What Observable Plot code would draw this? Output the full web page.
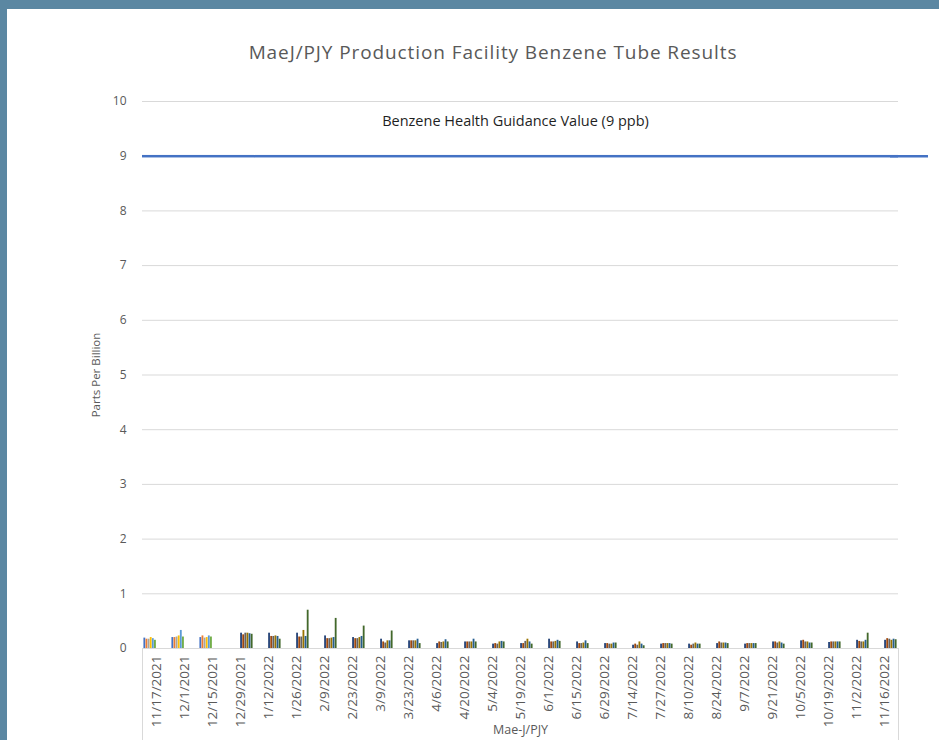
<!DOCTYPE html>
<html>
<head>
<meta charset="utf-8">
<script src="https://cdn.jsdelivr.net/npm/d3@7"></script>
<script src="https://cdn.jsdelivr.net/npm/@observablehq/plot@0.6"></script>
<style>
  html, body { margin: 0; padding: 0; }
  body { width: 939px; height: 740px; background: #5b87a2; position: relative; overflow: hidden; font-family: "Open Sans", sans-serif; }
  #panel { position: absolute; left: 7px; top: 9px; width: 932px; height: 731px; background: #ffffff; }
  #title { position: absolute; left: 493px; top: 41px; transform: translateX(-50%); white-space: nowrap;
           font-size: 19px; letter-spacing: 0.9px; line-height: 22px; color: #595959; }
  #chart { position: absolute; left: 7px; top: 80px; }
</style>
</head>
<body>
<div id="panel"></div>
<div id="title">MaeJ/PJY Production Facility Benzene Tube Results</div>
<div id="chart"></div>
<script>
const dates = ["11/17/2021","12/1/2021","12/15/2021","12/29/2021","1/12/2022","1/26/2022","2/9/2022","2/23/2022","3/9/2022","3/23/2022","4/6/2022","4/20/2022","5/4/2022","5/19/2022","6/1/2022","6/15/2022","6/29/2022","7/14/2022","7/27/2022","8/10/2022","8/24/2022","9/7/2022","9/21/2022","10/5/2022","10/19/2022","11/2/2022","11/16/2022"];

// six sampling tubes per date (ppb)
const tube1 = [0.19,0.20,0.20,0.28,0.28,0.28,0.23,0.20,0.17,0.14,0.09,0.12,0.08,0.09,0.17,0.12,0.09,0.06,0.08,0.08,0.09,0.08,0.12,0.14,0.11,0.15,0.15];
const tube2 = [0.17,0.20,0.23,0.25,0.22,0.21,0.18,0.18,0.12,0.14,0.12,0.12,0.09,0.09,0.12,0.09,0.09,0.08,0.09,0.06,0.12,0.09,0.12,0.15,0.12,0.13,0.18];
const tube3 = [0.17,0.21,0.19,0.28,0.22,0.21,0.18,0.18,0.10,0.14,0.11,0.12,0.08,0.13,0.12,0.09,0.08,0.06,0.09,0.08,0.10,0.09,0.10,0.12,0.12,0.12,0.17];
const tube4 = [0.20,0.23,0.20,0.28,0.23,0.33,0.19,0.20,0.14,0.14,0.12,0.12,0.12,0.17,0.13,0.10,0.08,0.12,0.09,0.10,0.10,0.09,0.12,0.12,0.12,0.12,0.15];
const tube5 = [0.18,0.33,0.23,0.27,0.22,0.22,0.20,0.22,0.14,0.17,0.16,0.17,0.13,0.12,0.15,0.14,0.10,0.08,0.09,0.08,0.10,0.09,0.10,0.10,0.12,0.15,0.17];
const tube6 = [0.15,0.21,0.21,0.26,0.17,0.70,0.55,0.41,0.32,0.09,0.12,0.12,0.12,0.08,0.13,0.09,0.10,0.05,0.08,0.08,0.09,0.09,0.08,0.10,0.12,0.28,0.16];
const tubes = [tube1, tube2, tube3, tube4, tube5, tube6];

// Excel series: the first three dates were charted as series 1-6, the rest as series 7-12
const firstPeriodCount = 3;
const seriesColors = ["#4472C4","#ED7D31","#A5A5A5","#FFC000","#5B9BD5","#70AD47",
                      "#264478","#9E480E","#636363","#997300","#255E91","#43682B"];

const yTicks = [0,1,2,3,4,5,6,7,8,9,10];
const guidanceValue = 9;
const guidanceLabel = "Benzene Health Guidance Value (9 ppb)";
const yLabel = "Parts Per Billion";
const xLabel = "Mae-J/PJY";
const xDomain = [-0.6, 12.6];

const table = [];
dates.forEach((date, i) => {
  tubes.forEach((arr, j) => {
    table.push({date, slot: j + (i < firstPeriodCount ? 0 : 6), value: arr[i]});
  });
});
const perDate = dates.map(date => ({date}));
const first = [{date: dates[0]}];
const last = [{date: dates[dates.length - 1]}];
const middle = [{date: dates[Math.floor(dates.length / 2)]}];

const chart = Plot.plot({
  width: 932,
  height: 660,
  marginLeft: 131,
  marginRight: 37,
  marginTop: 21,
  marginBottom: 92,
  style: {fontFamily: "Open Sans, sans-serif", fontSize: "11px", color: "#595959", background: "transparent", overflow: "visible"},
  fx: {domain: dates, padding: 0},
  x: {domain: xDomain, axis: null},
  y: {domain: [0, 10]},
  color: {type: "ordinal", domain: d3.range(12), range: seriesColors},
  marks: [
    Plot.ruleY(yTicks.slice(1), {stroke: "#d9d9d9", strokeWidth: 1}),
    Plot.ruleY([0], {stroke: "#d9d9d9", strokeWidth: 1}),
    Plot.ruleX(first, {fx: "date", x: () => xDomain[0], y1: () => 0, y2: () => -1.7, stroke: "#d9d9d9"}),
    Plot.ruleX(last, {fx: "date", x: () => xDomain[1], y1: () => 0, y2: () => -1.7, stroke: "#d9d9d9"}),
    Plot.rect(table, {fx: "date", x1: "slot", x2: d => d.slot + 1, y1: () => 0, y2: "value", fill: "slot", insetLeft: 0.15, insetRight: 0.15}),
    Plot.ruleY(perDate, {fx: "date", y: () => guidanceValue, stroke: "#4472C4", strokeWidth: 2.5}),
    Plot.ruleY(last, {fx: "date", y: () => guidanceValue, stroke: "#4472C4", strokeWidth: 2.5, insetLeft: 20, insetRight: -30}),
    Plot.text(middle, {fx: "date", frameAnchor: "top", dy: 14, dx: -5, text: () => guidanceLabel, fontSize: 14.5, fill: "#1f1f1f"}),
    Plot.text(first, {fx: "date", frameAnchor: "left", textAnchor: "middle", dx: -46, rotate: -90, text: () => yLabel, fontSize: 11.5, fill: "#595959"}),
    Plot.text(middle, {fx: "date", frameAnchor: "bottom", dy: 85, text: () => xLabel, fontSize: 12.5, fill: "#595959"}),
    Plot.axisY({ticks: yTicks, tickSize: 0, tickPadding: 16, fontSize: 12, label: null}),
    Plot.axisFx({anchor: "bottom", tickRotate: -90, tickSize: 0, tickPadding: 7, fontSize: 13.5, label: null})
  ]
});
document.getElementById("chart").appendChild(chart);
</script>
</body>
</html>
